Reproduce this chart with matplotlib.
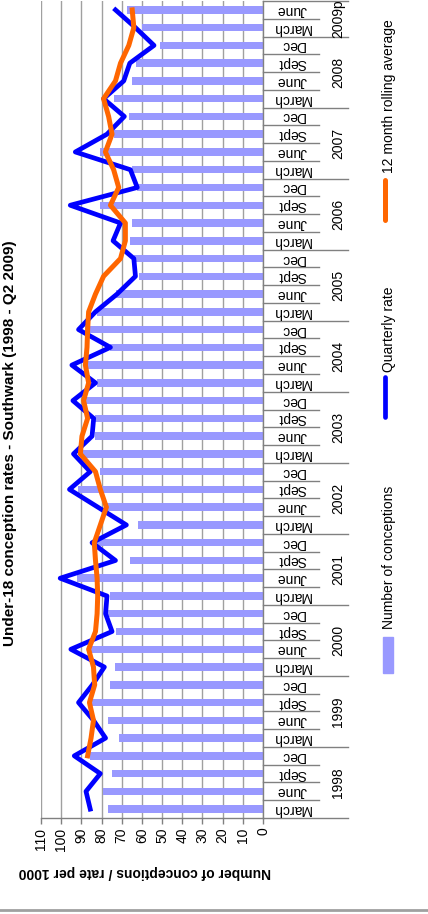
import matplotlib
matplotlib.use("Agg")
import matplotlib.pyplot as plt
from matplotlib.lines import Line2D
from matplotlib.patches import Rectangle
import matplotlib.transforms as mtrans

plt.rcParams['font.family'] = ['Liberation Sans', 'DejaVu Sans']

## Under-18 conceptions, Southwark, quarterly 1998 - Q2 2009
quarters = ["March", "June", "Sept", "Dec"] * 11 + ["March", "June"]
years = ["1998", "1999", "2000", "2001", "2002", "2003", "2004",
         "2005", "2006", "2007", "2008", "2009p"]

# number of conceptions per quarter (bars)
conceptions = [76.8, 79.4, 74.8, 85.6, 71.5, 76.8, 84.7, 75.6, 73.5, 85.6,
               72.6, 77.6, 75.6, 92.2, 66.0, 82.2, 62.0, 77.3, 91.5, 80.6,
               89.0, 83.0, 83.0, 88.0, 82.2, 87.0, 75.6, 88.0, 82.2, 73.0,
               61.5, 64.0, 65.7, 64.8, 80.6, 62.3, 64.8, 80.6, 74.0, 66.5,
               73.6, 64.8, 62.7, 51.0, 60.0, 67.3]

# quarterly rate per 1000 (blue line)
rate = [85.6, 87.7, 80.6, 93.5, 78.0, 84.0, 91.4, 84.5, 78.6, 95.2,
        74.8, 78.0, 77.3, 100.5, 73.1, 84.7, 67.7, 81.8, 95.9, 85.6,
        93.9, 84.7, 83.9, 94.2, 83.0, 94.7, 75.6, 91.4, 83.0, 72.3,
        63.2, 64.0, 74.3, 70.6, 95.5, 62.3, 65.7, 93.0, 77.3, 68.7,
        79.0, 69.0, 66.0, 54.0, 63.2, 73.1]

# 12 month rolling average (orange line), first value is Dec 1998
rolling = [86.9, 85.2, 84.0, 86.0, 83.4, 84.0, 86.4, 83.0, 82.2, 81.9,
           82.2, 83.0, 83.6, 80.6, 77.6, 80.6, 83.0, 90.5, 89.7, 86.9,
           88.9, 86.4, 88.0, 87.2, 86.9, 86.4, 83.0, 79.0, 70.6, 68.2,
           68.2, 75.6, 71.5, 74.0, 78.1, 74.8, 76.5, 79.0, 73.1, 70.6,
           66.5, 64.0, 64.8]

W, H = 428, 914
fig = plt.figure(figsize=(W / 100, H / 100), dpi=100)

# chart is turned on its side: value axis runs right to left
x0, x1, ytop, ybot = 41, 263, 1, 818
ax = fig.add_axes([x0 / W, 1 - ybot / H, (x1 - x0) / W, (ybot - ytop) / H])

pos = list(range(len(conceptions)))
ax.barh(pos, conceptions, height=0.42, color='#9999FF', zorder=2)
ax.plot(rate, pos, color='#0000FF', lw=3.4, zorder=3)
ax.plot(rolling, pos[3:], color='#FF6600', lw=3.6, zorder=4)

ax.set_xlim(110, 0)
ax.set_ylim(-0.5, len(pos) - 0.5)
ax.set_xticks(range(0, 111, 10))
ax.xaxis.grid(True, color='#A0A0A0', lw=1, zorder=0)
ax.set_axisbelow(True)
ax.set_yticks([])
ax.tick_params(axis='x', direction='out', length=4, width=1, color='#808080',
               labelrotation=90, labelsize=10, pad=3)
for s in ['top', 'left']:
    ax.spines[s].set_visible(False)
for s in ['right', 'bottom']:
    ax.spines[s].set_color('#808080')
    ax.spines[s].set_linewidth(1)

# category labels on the right hand side
tr = mtrans.blended_transform_factory(ax.transAxes, ax.transData)
q_end = 1 + 56 / (x1 - x0)
y_end = 1 + 85 / (x1 - x0)
for i, q in enumerate(quarters):
    ax.text(1 + 29 / (x1 - x0), i, q, transform=tr, rotation=180,
            ha='center', va='center', fontsize=10)
    edge = i - 0.5
    ln = y_end if i % 4 == 0 else q_end
    ax.add_line(Line2D([1, ln], [edge, edge], transform=tr, color='#808080',
                       lw=1, clip_on=False))
ax.add_line(Line2D([1, y_end], [len(pos) - 0.5] * 2, transform=tr,
                   color='#808080', lw=1, clip_on=False))
for k, yr in enumerate(years):
    mid = k * 4 + 1.5 if k < 11 else 44.5
    ax.text(1 + 75 / (x1 - x0), mid, yr, transform=tr, rotation=90,
            ha='center', va='center', fontsize=10)

# legend, drawn by hand because it is rotated
fig.add_artist(Rectangle((383 / W, 1 - 673 / H), 10 / W, 36 / H,
                         color='#9999FF', transform=fig.transFigure))
fig.text(389 / W, 1 - 557 / H, 'Number of conceptions', rotation=90,
         ha='center', va='center', fontsize=10)
fig.add_artist(Line2D([385 / W] * 2, [1 - 417 / H, 1 - 377 / H], color='#0000FF',
                      lw=3.4, solid_capstyle='round', transform=fig.transFigure))
fig.text(389 / W, 1 - 329 / H, 'Quarterly rate', rotation=90,
         ha='center', va='center', fontsize=10)
fig.add_artist(Line2D([385 / W] * 2, [1 - 220 / H, 1 - 180 / H], color='#FF6600',
                      lw=3.6, solid_capstyle='round', transform=fig.transFigure))
fig.text(389 / W, 1 - 96 / H, '12 month rolling average', rotation=90,
         ha='center', va='center', fontsize=10)

fig.text(10 / W, 1 - 443 / H, 'Under-18 conception rates - Southwark (1998 - Q2 2009)',
         rotation=90, ha='center', va='center', fontsize=11, weight='bold')
fig.text(145 / W, 1 - 872 / H, 'Number of conceptions / rate per 1000',
         rotation=180, ha='center', va='center', fontsize=10, weight='bold')

fig.add_artist(Line2D([0, 1], [1 - 910 / H] * 2, color='#A0A0A0', lw=2,
                      transform=fig.transFigure))

fig.savefig('out.png', dpi=100)
